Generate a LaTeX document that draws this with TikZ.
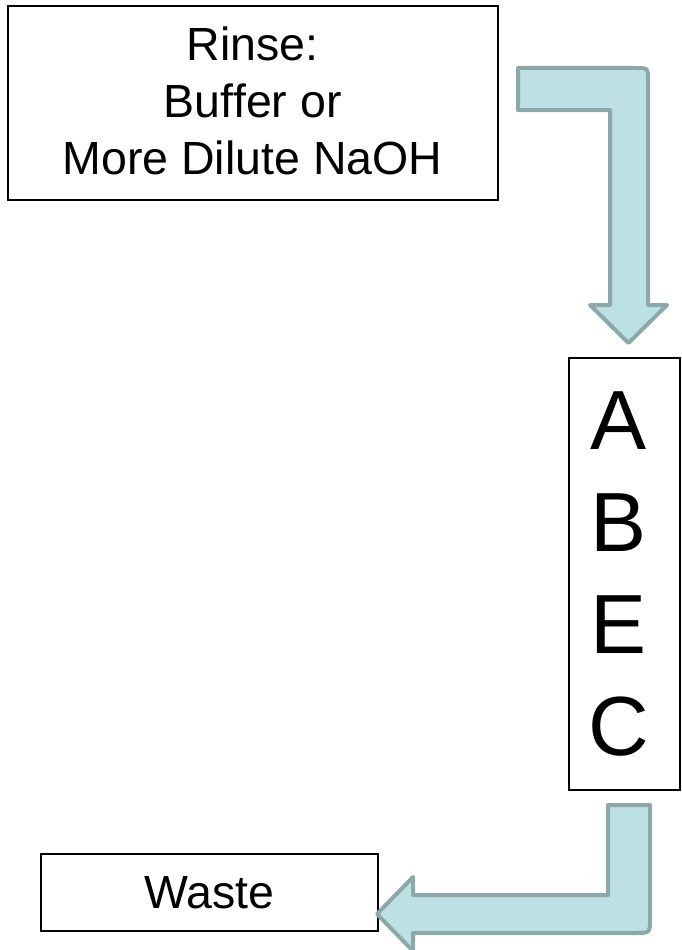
\documentclass[tikz,border=0pt]{standalone}
\usepackage{fontspec}
\setmainfont[Ligatures=NoCommon, RawFeature={-liga}]{Liberation Sans}
\definecolor{arrowfill}{HTML}{BCE0E3}
\definecolor{arrowline}{HTML}{8CA8A8}
\tikzset{
  box/.style={draw=black, line width=2pt, fill=white, align=center, inner sep=0pt},
  bodytext/.style={font=\fontsize{46.5}{57}\selectfont},
  bigtext/.style={font=\fontsize{84}{102}\selectfont},
  blockarrow/.style={fill=arrowfill, draw=arrowline, line width=4pt, line join=round}
}
\begin{document}
\begin{tikzpicture}[x=1pt, y=-1pt]
  \useasboundingbox (0,0) rectangle (681,950);

  % process boxes
  \node[box, minimum width=490pt, minimum height=194pt] (rinse) at (253,103) {};
  \node[bodytext, align=center, inner sep=0pt] (rinsetext) at (252.5,100.5)
    {Rinse:\\Buf\kern0pt fer or\\More Dilute NaOH};
  \node[box, bigtext, minimum width=111pt, minimum height=432pt] (column) at (624.5,574) {};
  \node[bigtext, align=center, inner sep=0pt] (columntext) at (619,574) {A\\B\\E\\C};
  \node[box, bodytext, minimum width=337pt, minimum height=77pt] (waste) at (209.5,892.5)
    {Waste};

  % bent arrow: rinse -> column
  \draw[blockarrow] (518,68) -- (636,68) .. controls (648,68) .. (648,80)
    -- (648,305) -- (667,305) -- (628.5,343) -- (590,305) -- (610,305)
    -- (610,110) -- (518,110) -- cycle;

  % bent arrow: column -> waste
  \draw[blockarrow] (608,805) -- (650,805) -- (650,918) .. controls (650,933) .. (635,933)
    -- (413,933) -- (413,951) -- (377,914) -- (413,877) -- (413,895)
    -- (608,895) -- cycle;
\end{tikzpicture}
\end{document}
